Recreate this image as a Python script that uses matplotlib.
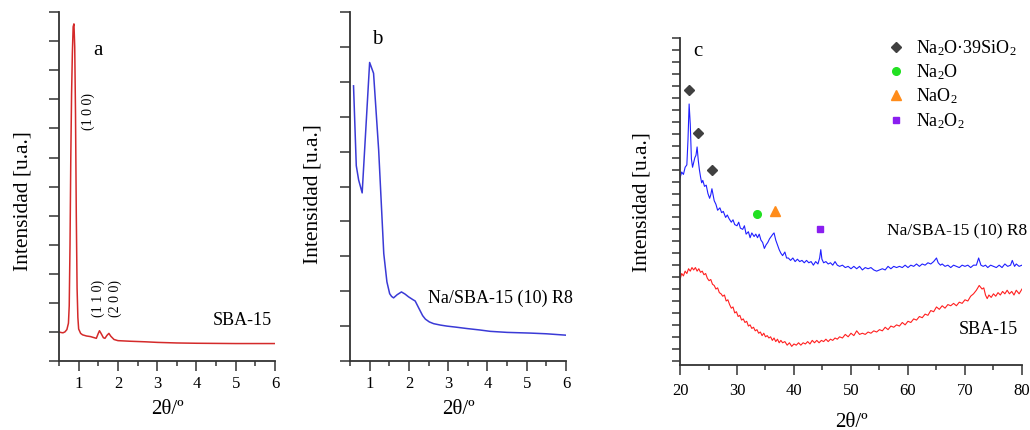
import matplotlib
matplotlib.use('Agg')
import matplotlib.pyplot as plt
from matplotlib.ticker import MultipleLocator

plt.rcParams['font.family'] = ['Liberation Serif', 'DejaVu Serif']
plt.rcParams['mathtext.fontset'] = 'custom'
plt.rcParams['mathtext.rm'] = 'Liberation Serif'
plt.rcParams['mathtext.it'] = 'Liberation Serif:italic'

# panel a: SBA-15 low angle
a_x = [0.50, 0.55, 0.60, 0.65, 0.70, 0.74, 0.76, 0.78, 0.80, 0.82, 0.84, 0.86, 0.88,
       0.90, 0.92, 0.94, 0.96, 0.98, 1.00, 1.05, 1.10, 1.20, 1.30, 1.40, 1.45, 1.50,
       1.53, 1.57, 1.63, 1.67, 1.72, 1.77, 1.82, 1.90, 2.00, 2.30, 2.70, 3.00, 3.50,
       4.00, 5.00, 6.00]
a_y = [1.00, 0.98, 0.97, 1.00, 1.08, 1.30, 1.90, 4.00, 7.00, 9.20, 10.6, 11.5, 11.6,
       10.8, 8.5, 5.0, 2.5, 1.5, 1.10, 0.95, 0.90, 0.86, 0.84, 0.80, 0.78, 0.95,
       1.04, 0.95, 0.80, 0.78, 0.88, 0.95, 0.85, 0.74, 0.70, 0.68, 0.66, 0.64, 0.62,
       0.61, 0.60, 0.60]

# panel b: Na/SBA-15 (10) R8 low angle
b_x = [0.59, 0.66, 0.72, 0.81, 1.00, 1.10, 1.23, 1.36, 1.44, 1.51, 1.56, 1.61, 1.70,
       1.81, 1.90, 1.99, 2.10, 2.16, 2.25, 2.35, 2.42, 2.52, 2.63, 2.80, 2.97, 3.20,
       3.48, 3.80, 4.07, 4.50, 5.09, 5.50, 6.00]
b_y = [7.89, 5.60, 5.19, 4.82, 8.56, 8.25, 6.05, 3.08, 2.27, 1.93, 1.85, 1.81, 1.90,
       1.98, 1.92, 1.84, 1.76, 1.72, 1.52, 1.30, 1.20, 1.12, 1.07, 1.03, 1.00, 0.97,
       0.93, 0.89, 0.85, 0.82, 0.80, 0.78, 0.74]

# panel c: wide angle, Na/SBA-15 (10) R8 (blue)
c_blue_x = [20.0, 20.3, 20.6, 20.9, 21.2, 21.4, 21.6, 21.8, 22.0, 22.2, 22.4, 22.6, 22.8,
            23.0, 23.2, 23.4, 23.6, 23.8, 24.0, 24.3, 24.6, 24.9, 25.2, 25.4, 25.6, 25.8,
            26.0, 26.3, 26.6, 27.0, 27.3, 27.6, 28.0, 28.3, 28.6, 29.0, 29.3, 29.6, 30.0,
            30.3, 30.6, 31.0, 31.3, 31.6, 32.0, 32.3, 32.6, 33.0, 33.3, 33.6, 33.9, 34.2,
            34.5, 34.8, 35.1, 35.4, 35.7, 36.0, 36.3, 36.5, 36.8, 37.1, 37.4, 37.7, 38.0,
            38.4, 38.7, 39.0, 39.4, 39.8, 40.2, 40.6, 41.0, 41.4, 41.8, 42.2, 42.6, 43.0,
            43.4, 43.8, 44.2, 44.5, 44.7, 44.9, 45.2, 45.6, 46.0, 46.4, 46.8, 47.2, 47.6,
            48.0, 48.5, 49.0, 49.5, 50.0, 50.5, 51.0, 51.5, 52.0, 52.5, 53.0, 53.5, 54.0,
            54.5, 55.0, 55.5, 56.0, 56.5, 57.0, 57.5, 58.0, 58.5, 59.0, 59.5, 60.0, 60.5,
            61.0, 61.5, 62.0, 62.5, 63.0, 63.5, 64.0, 64.5, 65.0, 65.3, 65.7, 66.0, 66.5,
            67.0, 67.5, 68.0, 68.5, 69.0, 69.5, 70.0, 70.5, 71.0, 71.5, 72.0, 72.4, 72.8,
            73.2, 73.6, 74.0, 74.5, 75.0, 75.5, 76.0, 76.5, 77.0, 77.5, 78.0, 78.3, 78.7,
            79.0, 79.5, 80.0]
c_blue_y = [15.3, 15.8, 15.6, 16.2, 16.4, 18.5, 21.5, 19.8, 16.9, 16.2, 16.6, 17.0, 17.2,
            17.9, 16.8, 16.0, 15.4, 14.9, 15.1, 14.6, 14.7, 14.0, 13.6, 13.9, 14.4, 13.9,
            13.4, 13.1, 12.6, 12.8, 12.4, 12.5, 12.0, 12.2, 11.9, 11.6, 11.8, 11.4, 11.3,
            11.6, 11.1, 11.0, 11.3, 10.6, 10.8, 10.3, 10.7, 10.4, 10.6, 10.3, 10.6, 10.1,
            9.9, 9.4, 9.7, 9.9, 10.2, 10.4, 10.6, 10.7, 10.1, 9.7, 9.3, 9.0, 8.8,
            9.1, 8.6, 8.6, 8.4, 8.6, 8.3, 8.5, 8.3, 8.4, 8.2, 8.4, 8.2, 8.3,
            8.0, 8.3, 8.1, 8.6, 9.3, 8.5, 8.2, 8.3, 8.1, 8.2, 8.0, 8.3, 8.0,
            7.9, 8.0, 7.8, 7.9, 7.7, 7.9, 7.7, 7.9, 7.6, 7.8, 7.7, 7.8, 7.6,
            7.5, 7.6, 7.7, 7.6, 7.9, 7.7, 7.9, 7.8, 7.9, 7.8, 8.0, 7.8, 8.0,
            7.9, 8.1, 7.9, 8.1, 8.0, 8.2, 8.1, 8.3, 8.6, 8.2, 8.0, 8.1, 7.9,
            8.0, 7.8, 8.0, 7.9, 7.8, 8.0, 7.9, 8.0, 7.8, 8.0, 8.0, 8.6, 8.0,
            7.9, 8.0, 7.8, 8.0, 7.9, 7.8, 8.0, 7.8, 8.1, 7.9, 8.0, 8.4, 7.9,
            8.1, 7.9, 8.0]

# panel c: wide angle, SBA-15 (red)
c_red_x = [20.0, 20.3, 20.6, 20.9, 21.2, 21.5, 21.8, 22.1, 22.4, 22.7, 23.0, 23.3, 23.6,
           23.9, 24.2, 24.5, 24.8, 25.1, 25.4, 25.7, 26.0, 26.3, 26.6, 26.9, 27.2, 27.5,
           27.8, 28.1, 28.4, 28.7, 29.0, 29.3, 29.6, 29.9, 30.2, 30.5, 30.8, 31.1, 31.4,
           31.7, 32.0, 32.3, 32.6, 32.9, 33.2, 33.5, 33.8, 34.1, 34.4, 34.7, 35.0, 35.3,
           35.6, 35.9, 36.2, 36.5, 36.8, 37.1, 37.4, 37.7, 38.0, 38.4, 38.8, 39.2, 39.6,
           40.0, 40.4, 40.8, 41.2, 41.6, 42.0, 42.4, 42.8, 43.2, 43.6, 44.0, 44.4, 44.8,
           45.2, 45.6, 46.0, 46.4, 46.8, 47.2, 47.6, 48.0, 48.5, 49.0, 49.5, 50.0, 50.5,
           51.0, 51.5, 52.0, 52.5, 53.0, 53.5, 54.0, 54.5, 55.0, 55.5, 56.0, 56.5, 57.0,
           57.5, 58.0, 58.5, 59.0, 59.5, 60.0, 60.5, 61.0, 61.5, 62.0, 62.5, 63.0, 63.5,
           64.0, 64.5, 65.0, 65.5, 66.0, 66.5, 67.0, 67.5, 68.0, 68.5, 69.0, 69.5, 70.0,
           70.5, 71.0, 71.5, 72.0, 72.5, 73.0, 73.3, 73.6, 73.9, 74.2, 74.6, 75.0, 75.4,
           75.8, 76.2, 76.6, 77.0, 77.4, 77.8, 78.2, 78.6, 79.0, 79.5, 80.0]
c_red_y = [6.8, 7.3, 7.1, 7.5, 7.3, 7.7, 7.5, 7.8, 7.6, 7.8, 7.5, 7.7, 7.4,
           7.5, 7.2, 7.3, 6.9, 6.7, 6.8, 6.4, 6.3, 6.0, 6.1, 5.7, 5.6, 5.4,
           5.5, 5.0, 5.1, 4.7, 4.4, 4.5, 4.0, 4.1, 3.7, 3.8, 3.4, 3.5, 3.2,
           3.3, 2.9, 3.0, 2.7, 2.8, 2.5, 2.6, 2.3, 2.4, 2.1, 2.3, 2.0, 2.1,
           1.9, 2.0, 1.7, 1.9, 1.6, 1.8, 1.5, 1.7, 1.5, 1.6, 1.3, 1.5, 1.2,
           1.4, 1.3, 1.5, 1.3, 1.5, 1.4, 1.6, 1.4, 1.7, 1.5, 1.7, 1.5, 1.7,
           1.6, 1.8, 1.6, 1.8, 1.7, 1.9, 1.8, 2.0, 1.9, 2.2, 2.0, 2.3, 2.1,
           2.5, 2.2, 2.3, 2.2, 2.4, 2.3, 2.5, 2.4, 2.6, 2.5, 2.8, 2.6, 2.9,
           2.8, 3.0, 2.9, 3.2, 3.0, 3.3, 3.2, 3.5, 3.4, 3.7, 3.6, 3.9, 3.8,
           4.2, 4.1, 4.5, 4.3, 4.6, 4.4, 4.7, 4.6, 4.8, 4.6, 4.9, 4.8, 5.1,
           5.0, 5.4, 5.6, 5.9, 6.3, 6.0, 6.1, 5.5, 5.2, 5.5, 5.3, 5.6, 5.4,
           5.7, 5.5, 5.8, 5.6, 5.9, 5.6, 5.8, 5.5, 5.9, 5.6, 6.0]

# phase markers in panel c
diamond_x = [21.5, 23.1, 25.7]
diamond_y = [22.7, 19.05, 16.0]
na2o_x, na2o_y = [33.5], [12.3]
nao2_x, nao2_y = [36.7], [12.5]
na2o2_x, na2o2_y = [44.5], [11.0]

fig = plt.figure(figsize=(10.3, 4.3), dpi=100)
ax_a = fig.add_axes([0.0573, 0.1605, 0.2097, 0.811])
ax_b = fig.add_axes([0.3398, 0.1605, 0.2097, 0.811])
ax_c = fig.add_axes([0.6602, 0.1512, 0.332, 0.7597])

spine_col = '#333333'
for ax in (ax_a, ax_b, ax_c):
    for s in ('top', 'right'):
        ax.spines[s].set_visible(False)
    for s in ('left', 'bottom'):
        ax.spines[s].set_linewidth(1.3)
        ax.spines[s].set_color(spine_col)
    ax.tick_params(axis='both', which='major', direction='out', length=7, width=1.1,
                   color=spine_col, labelsize=12, pad=4)
    ax.tick_params(axis='x', which='minor', direction='out', length=3.5, width=1.1,
                   color=spine_col)
    ax.tick_params(axis='y', labelleft=False)
    ax.set_ylabel('Intensidad [u.a.]', fontsize=15.5)

# panel a
ax_a.plot(a_x, a_y, color='#d42a2a', lw=1.1)
ax_a.set_xlim(0.5, 6)
ax_a.set_ylim(0, 12)
ax_a.xaxis.set_major_locator(MultipleLocator(1))
ax_a.xaxis.set_minor_locator(MultipleLocator(0.5))
ax_a.yaxis.set_major_locator(MultipleLocator(1))
ax_a.set_xlabel('2θ/º', fontsize=15)
ax_a.xaxis.set_label_coords(0.5, -0.112)
ax_a.yaxis.set_label_coords(-0.125, 0.46)
ax_a.text(1.48, 10.7, 'a', fontsize=15, ha='center', va='center')
ax_a.text(1.25, 8.57, '(1 0 0)', fontsize=10, rotation=90, ha='center', va='center')
ax_a.text(1.5, 2.16, '(1 1 0)', fontsize=10, rotation=90, ha='center', va='center')
ax_a.text(1.93, 2.16, '(2 0 0)', fontsize=10, rotation=90, ha='center', va='center')
ax_a.text(5.92, 1.39, 'SBA-15', fontsize=13, ha='right', va='center')

# panel b
ax_b.plot(b_x, b_y, color='#3a3ad6', lw=1.1)
ax_b.set_xlim(0.5, 6)
ax_b.set_ylim(0, 10)
ax_b.xaxis.set_major_locator(MultipleLocator(1))
ax_b.xaxis.set_minor_locator(MultipleLocator(0.5))
ax_b.yaxis.set_major_locator(MultipleLocator(1))
ax_b.set_xlabel('2θ/º', fontsize=15)
ax_b.xaxis.set_label_coords(0.5, -0.112)
ax_b.yaxis.set_label_coords(-0.125, 0.48)
ax_b.text(1.2, 9.23, 'b', fontsize=15, ha='center', va='center')
ax_b.text(2.49, 1.8, 'Na/SBA-15 (10) R8', fontsize=13, ha='left', va='center')

# panel c
ax_c.plot(c_blue_x, c_blue_y, color='#1f1fff', lw=0.8)
ax_c.plot(c_red_x, c_red_y, color='#ff2020', lw=0.8)
ax_c.plot(diamond_x, diamond_y, 'D', color='#404040', ms=5.5, ls='none',
          label='Na$_2$O·39SiO$_2$')
ax_c.plot(na2o_x, na2o_y, 'o', color='#22e022', ms=5.5, ls='none', label='Na$_2$O')
ax_c.plot(nao2_x, nao2_y, '^', color='#ff8c1a', ms=6.5, ls='none', label='NaO$_2$')
ax_c.plot(na2o2_x, na2o2_y, 's', color='#8a1ef0', ms=5, ls='none', label='Na$_2$O$_2$')
ax_c.set_xlim(20, 80)
ax_c.set_ylim(-0.36, 27)
ax_c.xaxis.set_major_locator(MultipleLocator(10))
ax_c.xaxis.set_minor_locator(MultipleLocator(5))
ax_c.yaxis.set_major_locator(MultipleLocator(1))
ax_c.tick_params(axis='y', which='major', length=6)
ax_c.tick_params(axis='x', which='major', pad=6)
ax_c.set_xlabel('2θ/º', fontsize=15)
ax_c.xaxis.set_label_coords(0.5, -0.147)
ax_c.yaxis.set_label_coords(-0.082, 0.5)
ax_c.text(23.2, 25.9, 'c', fontsize=15, ha='center', va='center')
ax_c.text(80.9, 10.8, 'Na/SBA-15 (10) R8', fontsize=12.5, ha='right', va='center')
ax_c.text(79.3, 2.6, 'SBA-15', fontsize=13, ha='right', va='center')
ax_c.legend(loc='upper left', bbox_to_anchor=(0.605, 1.0), frameon=False, fontsize=13,
            borderpad=0, borderaxespad=0, handlelength=1.0, handletextpad=0.6,
            labelspacing=0.25)

plt.savefig('out.png', dpi=100)
